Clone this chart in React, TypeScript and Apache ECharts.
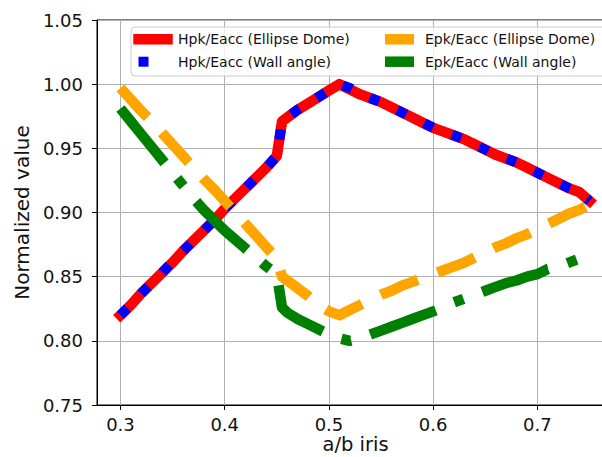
import React, { useEffect, useRef } from "react";
import * as echarts from "echarts";

const xValues = [
  0.30, 0.31, 0.32, 0.33, 0.34, 0.35, 0.36, 0.37, 0.38, 0.39, 0.40, 0.41, 0.42, 0.43, 0.44, 0.45, 0.455,
  0.46, 0.47, 0.48, 0.49, 0.50, 0.51, 0.52, 0.53, 0.54, 0.55, 0.56, 0.57, 0.58, 0.59, 0.60,
  0.61, 0.62, 0.63, 0.64, 0.65, 0.66, 0.67, 0.68, 0.69, 0.70, 0.71, 0.72, 0.73, 0.74, 0.75,
];

const hpkEllipse = [
  0.820, 0.828, 0.837, 0.845, 0.853, 0.861, 0.870, 0.878, 0.886, 0.894, 0.903, 0.911, 0.919, 0.927, 0.935, 0.944, 0.971,
  0.974, 0.980, 0.985, 0.990, 0.995, 1.000, 0.996, 0.992, 0.989, 0.986, 0.982, 0.978, 0.974, 0.970, 0.966,
  0.963, 0.960, 0.957, 0.953, 0.949, 0.945, 0.942, 0.939, 0.935, 0.931, 0.927, 0.923, 0.919, 0.916, 0.909,
];

const hpkWall = [
  0.820, 0.828, 0.837, 0.845, 0.853, 0.862, 0.870, 0.878, 0.886, 0.894, 0.903, 0.911, 0.919, 0.927, 0.935, 0.944, 0.971,
  0.974, 0.980, 0.985, 0.990, 0.995, 1.000, 0.997, 0.993, 0.989, 0.986, 0.982, 0.978, 0.974, 0.970, 0.966,
  0.963, 0.960, 0.957, 0.953, 0.949, 0.945, 0.942, 0.939, 0.935, 0.931, 0.927, 0.923, 0.919, 0.916, 0.909,
];

const epkEllipse = [
  0.997, 0.988, 0.979, 0.971, 0.962, 0.953, 0.944, 0.935, 0.926, 0.918, 0.909, 0.900, 0.891, 0.882, 0.873, 0.864, 0.850,
  0.847, 0.841, 0.835, 0.828, 0.823, 0.820, 0.824, 0.828, 0.832, 0.836, 0.839, 0.843, 0.846, 0.849, 0.852,
  0.855, 0.858, 0.861, 0.865, 0.869, 0.873, 0.876, 0.880, 0.883, 0.887, 0.891, 0.895, 0.899, 0.902, 0.906,
];

const epkWall = [
  0.981, 0.971, 0.961, 0.951, 0.941, 0.931, 0.921, 0.911, 0.902, 0.894, 0.886, 0.879, 0.872, 0.865, 0.858, 0.852, 0.826,
  0.822, 0.817, 0.813, 0.809, 0.805, 0.802, 0.800, 0.802, 0.805, 0.808, 0.811, 0.814, 0.817, 0.820, 0.823,
  0.826, 0.830, 0.833, 0.836, 0.839, 0.842, 0.845, 0.847, 0.850, 0.852, 0.856, 0.858, 0.861, 0.864, 0.867,
];

const seriesNames = [
  "Hpk/Eacc (Ellipse Dome)",
  "Hpk/Eacc (Wall angle)",
  "Epk/Eacc (Ellipse Dome)",
  "Epk/Eacc (Wall angle)",
];

const xAxisTitle = "a/b iris";
const yAxisTitle = "Normalized value";

const FONT = "DejaVu Sans";

function pairs(ys: number[]) {
  return xValues.map((x, i) => [x, ys[i]]);
}

export default function App() {
  const ref = useRef<HTMLDivElement>(null);
  useEffect(() => {
    document.body.style.margin = "0";
    if (!ref.current) return;
    const chart = echarts.init(ref.current, null, { renderer: "svg" });
    const lw = 10.5;
    const option: any = {
      animation: false,
      backgroundColor: "#ffffff",
      grid: {
        left: 97,
        top: 20,
        right: -11,
        bottom: 52,
        containLabel: false,
        outerBoundsMode: "none",
        show: true,
        borderColor: "#000",
        borderWidth: 1,
        backgroundColor: "transparent",
      },
      xAxis: {
        type: "value",
        min: 0.2775,
        max: 0.7725,
        splitNumber: 5,
        axisLine: { show: true, onZero: false, lineStyle: { color: "#000", width: 1 } },
        axisTick: { show: true, length: 5, lineStyle: { color: "#000", width: 1 } },
        axisLabel: {
          fontFamily: FONT,
          fontSize: 18,
          color: "#111",
          margin: 10,
          showMinLabel: false,
          showMaxLabel: false,
          formatter: (v: number) => v.toFixed(1),
        },
        splitLine: { show: true, lineStyle: { color: "#b0b0b0", width: 1 } },
      },
      yAxis: {
        type: "value",
        min: 0.75,
        max: 1.05,
        interval: 0.05,
        name: yAxisTitle,
        nameLocation: "middle",
        nameGap: 62,
        nameTextStyle: { fontFamily: FONT, fontSize: 20, color: "#111" },
        axisLine: { show: true, onZero: false, lineStyle: { color: "#000", width: 1 } },
        axisTick: { show: true, length: 5, lineStyle: { color: "#000", width: 1 } },
        axisLabel: {
          fontFamily: FONT,
          fontSize: 18,
          color: "#111",
          margin: 14,
          formatter: (v: number) => v.toFixed(2),
        },
        splitLine: { show: true, lineStyle: { color: "#b0b0b0", width: 1 } },
      },
      series: [
        {
          name: seriesNames[0],
          type: "line",
          data: pairs(hpkEllipse),
          showSymbol: false,
          lineStyle: { color: "#ff0000", width: lw, cap: "square", join: "round" },
          z: 2,
        },
        {
          name: seriesNames[1],
          type: "line",
          data: pairs(hpkWall),
          showSymbol: false,
          lineStyle: { color: "#0000ff", width: lw - 0.5, type: [10, 20], cap: "butt", join: "round" },
          z: 3,
        },
        {
          name: seriesNames[2],
          type: "line",
          data: pairs(epkEllipse),
          showSymbol: false,
          lineStyle: { color: "#ffa500", width: lw, type: [40, 21], cap: "butt", join: "round" },
          z: 4,
        },
        {
          name: seriesNames[3],
          type: "line",
          data: pairs(epkWall),
          showSymbol: false,
          lineStyle: { color: "#008000", width: lw, type: [70, 20, 10, 20], cap: "butt", join: "round" },
          z: 5,
        },
      ],
      graphic: [
        {
          type: "text",
          z: 50,
          x: 355.5,
          y: 444.5,
          style: {
            text: xAxisTitle,
            fontFamily: FONT,
            fontSize: 19.5,
            fill: "#111",
            align: "center",
            verticalAlign: "middle",
          },
        },
        {
          type: "rect",
          z: 100,
          shape: { x: 131, y: 27, width: 480, height: 49, r: 4 },
          style: { fill: "rgba(255,255,255,0.8)", stroke: "#cccccc", lineWidth: 1 },
        },
        {
          type: "line",
          z: 101,
          shape: { x1: 138.5, y1: 39.3, x2: 167.5, y2: 39.3 },
          style: { stroke: "#ff0000", lineWidth: lw, lineCap: "square" },
        },
        {
          type: "line",
          z: 101,
          shape: { x1: 138.5, y1: 61.7, x2: 167.5, y2: 61.7 },
          style: { stroke: "#0000ff", lineWidth: lw - 0.5, lineDash: [10, 20], lineCap: "butt" },
        },
        {
          type: "line",
          z: 101,
          shape: { x1: 385, y1: 39.3, x2: 414, y2: 39.3 },
          style: { stroke: "#ffa500", lineWidth: lw, lineCap: "butt" },
        },
        {
          type: "line",
          z: 101,
          shape: { x1: 385, y1: 61.7, x2: 414, y2: 61.7 },
          style: { stroke: "#008000", lineWidth: lw, lineCap: "butt" },
        },
        {
          type: "text",
          z: 101,
          x: 178,
          y: 39.3,
          style: { text: seriesNames[0], fontFamily: FONT, fontSize: 14, fill: "#111", verticalAlign: "middle" },
        },
        {
          type: "text",
          z: 101,
          x: 178,
          y: 61.7,
          style: { text: seriesNames[1], fontFamily: FONT, fontSize: 14, fill: "#111", verticalAlign: "middle" },
        },
        {
          type: "text",
          z: 101,
          x: 425,
          y: 39.3,
          style: { text: seriesNames[2], fontFamily: FONT, fontSize: 14, fill: "#111", verticalAlign: "middle" },
        },
        {
          type: "text",
          z: 101,
          x: 425,
          y: 61.7,
          style: { text: seriesNames[3], fontFamily: FONT, fontSize: 14, fill: "#111", verticalAlign: "middle" },
        },
      ],
    };
    chart.setOption(option);
    return () => chart.dispose();
  }, []);
  return <div ref={ref} style={{ width: 602, height: 457 }} />;
}
